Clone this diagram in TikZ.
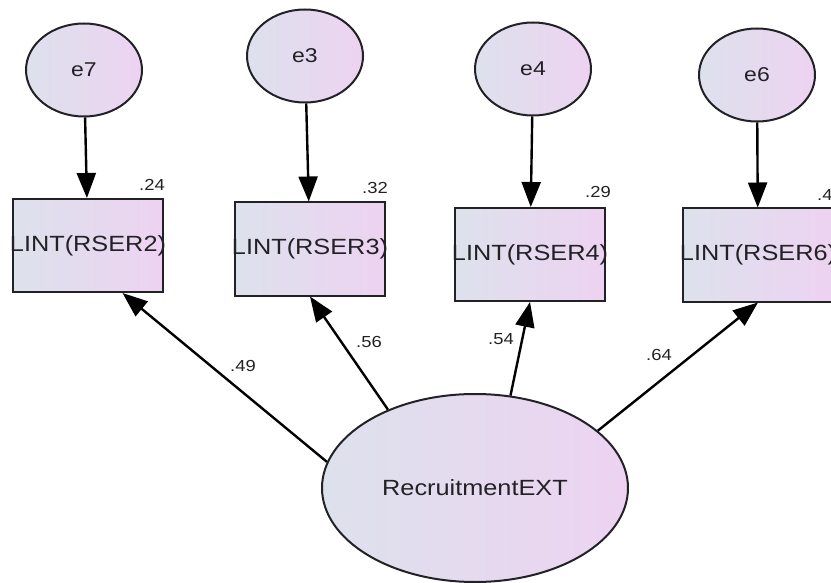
\documentclass[tikz,border=0pt]{standalone}
\usepackage{fontspec}
\setmainfont{Liberation Sans}[FakeStretch=1.15]
\usetikzlibrary{shapes.geometric,arrows.meta}

\definecolor{fillleft}{RGB}{221,225,236}
\definecolor{fillright}{RGB}{237,211,241}
\definecolor{inkgray}{RGB}{34,34,38}

\newcommand{\boxtext}[1]{\makebox[0pt]{#1}}

\tikzset{
	errvar/.style={ellipse, draw=inkgray, line width=2pt, left color=fillleft, right color=fillright, minimum width=116pt, minimum height=93pt, inner sep=0pt, font=\fontsize{20}{22}\selectfont},
	obsvar/.style={rectangle, draw=inkgray, line width=2pt, left color=fillleft, right color=fillright, minimum width=150pt, minimum height=93pt, inner sep=0pt, font=\fontsize{22}{24}\selectfont},
	latvar/.style={ellipse, draw=inkgray, line width=2pt, left color=fillleft, right color=fillright, minimum width=306pt, minimum height=188pt, inner sep=0pt, font=\fontsize{22}{24}\selectfont},
	weight/.style={inner sep=0pt, font=\fontsize{16}{18}\selectfont, text=inkgray},
	path/.style={line width=2.4pt, draw=black, -{Triangle[length=25pt,width=19pt]}}
}

\begin{document}
\begin{tikzpicture}[x=1pt, y=-1pt, text=inkgray]
	\useasboundingbox (0,0) rectangle (831,583);
	\clip (0,0) rectangle (831,583);
	
	%error terms
	\node[errvar] (e7) at (84, 70){e7};
	\node[errvar] (e3) at (305, 56){e3};
	\node[errvar] (e4) at (533, 69){e4};
	\node[errvar] (e6) at (757, 75){e6};
	
	%observed variables
	\node[obsvar] (rser2) at (88, 245.5){\boxtext{LINT(RSER2)}};
	\node[obsvar] (rser3) at (310, 249){\boxtext{LINT(RSER3)}};
	\node[obsvar] (rser4) at (530, 254.5){\boxtext{LINT(RSER4)}};
	\node[obsvar] (rser6) at (758, 255){\boxtext{LINT(RSER6)}};
	
	%latent variable
	\node[latvar] (recruit) at (475, 488){RecruitmentEXT};
	
	%squared multiple correlations
	\node[weight] (r2) at (152, 185){.24};
	\node[weight] (r3) at (375, 188){.32};
	\node[weight] (r4) at (598, 192){.29};
	\node[weight, anchor=west] (r6) at (817, 195){.41};
	
	\draw[path] (e7) -- (rser2);
	\draw[path] (e3) -- (rser3);
	\draw[path] (e4) -- (rser4);
	\draw[path] (e6) -- (rser6);
	
	%loadings
	\draw[path] (recruit.170.5) -- (rser2.-54);
	\draw[path] (recruit.138.4) -- (rser3.south);
	\draw[path] (recruit.69) -- (rser4.south);
	\draw[path] (recruit.25.4) -- (rser6.south);
	
	\node[weight] (l2) at (243, 366){.49};
	\node[weight] (l3) at (369, 342){.56};
	\node[weight] (l4) at (501, 339){.54};
	\node[weight] (l6) at (659, 355){.64};
\end{tikzpicture}
\end{document}
